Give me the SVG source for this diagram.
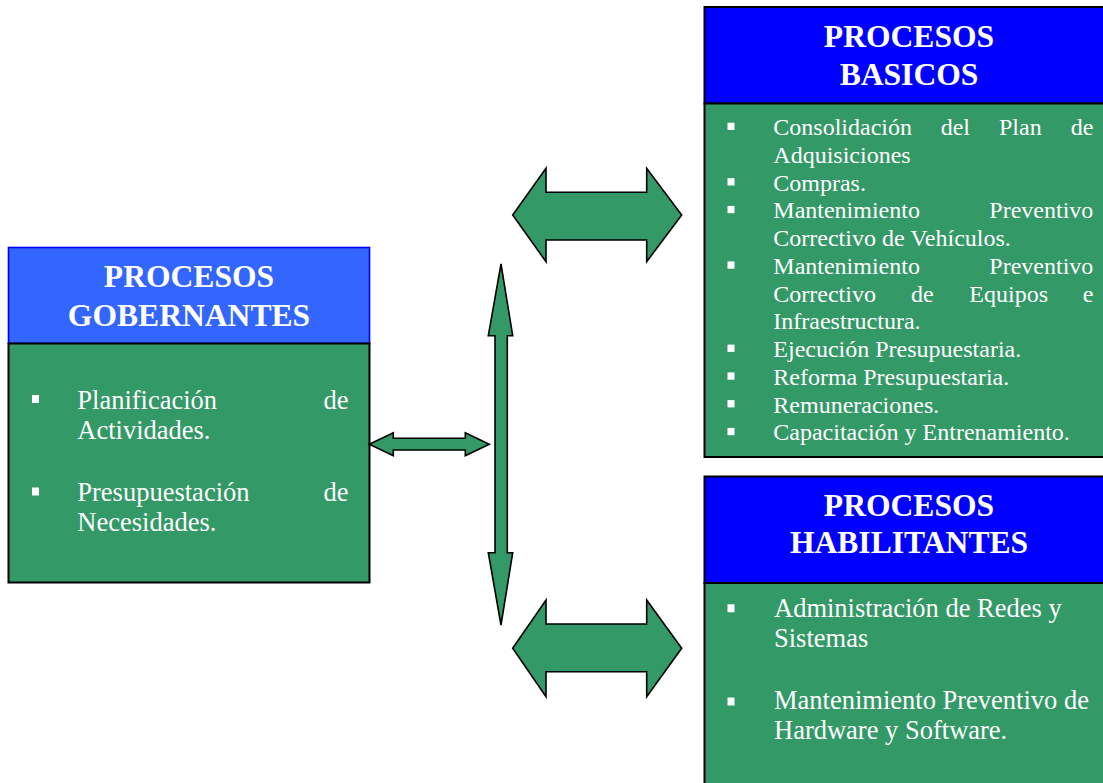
<svg xmlns="http://www.w3.org/2000/svg" width="1103" height="783" viewBox="0 0 1103 783">
  <style>
    .hdr { font-family: "Liberation Serif", "Times New Roman", serif; font-weight: bold; font-size: 31.6px; fill: #ffffff; text-anchor: middle; }
    .body26 { font-family: "Liberation Serif", "Times New Roman", serif; font-size: 26.5px; fill: #ffffff; }
    .body24 { font-family: "Liberation Serif", "Times New Roman", serif; font-size: 24px; fill: #ffffff; }
    .end { text-anchor: end; }
    .green { fill: #339966; stroke: #000000; stroke-width: 2; }
    .bullet { fill: #ffffff; }
    .arrow { fill: #339966; stroke: #000000; stroke-width: 1.6; stroke-linejoin: miter; }
  </style>
  <rect width="1103" height="783" fill="#ffffff"/>

  <!-- Governing processes -->
  <g id="gobernantes">
    <rect x="8.5" y="247.5" width="361" height="96" fill="#3366ff" stroke="#0000ff" stroke-width="1.6"/>
    <rect class="green" x="8.5" y="343.5" width="361" height="239"/>
    <text class="hdr" x="189" y="287">PROCESOS</text>
    <text class="hdr" x="189" y="325.5">GOBERNANTES</text>
    <rect class="bullet" x="32" y="395" width="7" height="8"/>
    <text class="body26" x="77.3" y="408.5">Planificación</text>
    <text class="body26 end" x="348.5" y="408.5">de</text>
    <text class="body26" x="77.3" y="438.5">Actividades.</text>
    <rect class="bullet" x="32" y="487.5" width="7" height="8"/>
    <text class="body26" x="77.3" y="500.7">Presupuestación</text>
    <text class="body26 end" x="348.5" y="500.7">de</text>
    <text class="body26" x="77.3" y="530.5">Necesidades.</text>
  </g>

  <!-- Basic processes -->
  <g id="basicos">
    <rect x="704.5" y="7" width="420" height="96.5" fill="#0000ff" stroke="#000000" stroke-width="2"/>
    <rect class="green" x="704.5" y="103.5" width="420" height="353.5"/>
    <text class="hdr" x="909" y="46.7">PROCESOS</text>
    <text class="hdr" x="909" y="85">BASICOS</text>
    <g class="body24">
      <rect class="bullet" x="727.5" y="122.7" width="7" height="7.3"/>
      <text x="773.3" y="135">Consolidación</text>
      <text x="940.7" y="135">del</text>
      <text x="999" y="135">Plan</text>
      <text class="end" x="1093.3" y="135">de</text>
      <text x="773.3" y="162.75">Adquisiciones</text>
      <rect class="bullet" x="727.5" y="178.2" width="7" height="7.3"/>
      <text x="773.3" y="190.5">Compras.</text>
      <rect class="bullet" x="727.5" y="205.9" width="7" height="7.3"/>
      <text x="773.3" y="218.25">Mantenimiento</text>
      <text class="end" x="1093.3" y="218.25">Preventivo</text>
      <text x="773.3" y="246">Correctivo de Vehículos.</text>
      <rect class="bullet" x="727.5" y="261.4" width="7" height="7.3"/>
      <text x="773.3" y="273.75">Mantenimiento</text>
      <text class="end" x="1093.3" y="273.75">Preventivo</text>
      <text x="773.3" y="301.5">Correctivo</text>
      <text x="911" y="301.5">de</text>
      <text x="969.3" y="301.5">Equipos</text>
      <text class="end" x="1093.3" y="301.5">e</text>
      <text x="773.3" y="329.25">Infraestructura.</text>
      <rect class="bullet" x="727.5" y="344.6" width="7" height="7.3"/>
      <text x="773.3" y="357">Ejecución Presupuestaria.</text>
      <rect class="bullet" x="727.5" y="372.4" width="7" height="7.3"/>
      <text x="773.3" y="384.75">Reforma Presupuestaria.</text>
      <rect class="bullet" x="727.5" y="400.1" width="7" height="7.3"/>
      <text x="773.3" y="412.5">Remuneraciones.</text>
      <rect class="bullet" x="727.5" y="427.9" width="7" height="7.3"/>
      <text x="773.3" y="440.25">Capacitación y Entrenamiento.</text>
    </g>
  </g>

  <!-- Enabling processes -->
  <g id="habilitantes">
    <rect x="704.5" y="476.5" width="420" height="106.5" fill="#0000ff" stroke="#000000" stroke-width="2"/>
    <rect class="green" x="704.5" y="583" width="420" height="220"/>
    <text class="hdr" x="909" y="515.7">PROCESOS</text>
    <text class="hdr" x="909" y="553.3">HABILITANTES</text>
    <rect class="bullet" x="727.5" y="604.3" width="7" height="8"/>
    <text class="body26" x="774" y="616.7">Administración de Redes y</text>
    <text class="body26" x="774" y="646.7">Sistemas</text>
    <rect class="bullet" x="727.5" y="697.5" width="7" height="8"/>
    <text class="body26" x="774" y="709.3">Mantenimiento Preventivo de</text>
    <text class="body26" x="774" y="739.3">Hardware y Software.</text>
  </g>

  <!-- Double-headed block arrows -->
  <g id="connectors">
    <polygon class="arrow" points="512.7,215 546,168.3 546,192.3 646.7,192.3 646.7,168.3 681.7,215 646.7,261.7 646.7,240 546,240 546,261.7"/>
    <polygon class="arrow" points="512.7,648.3 546,600 546,624 646.7,624 646.7,600 681.7,648.3 646.7,696.7 646.7,671.7 546,671.7 546,696.7"/>
    <polygon class="arrow" points="369.3,444.2 393.3,432.7 393.3,438.3 465.3,438.3 465.3,432.7 489.3,444.2 465.3,455.7 465.3,450 393.3,450 393.3,455.7"/>
    <polygon class="arrow" points="501,264 512.7,335.7 507.3,335.7 507.3,552.7 512.7,552.7 501,625 488.3,552.7 495,552.7 495,335.7 488.3,335.7"/>
  </g>
</svg>
